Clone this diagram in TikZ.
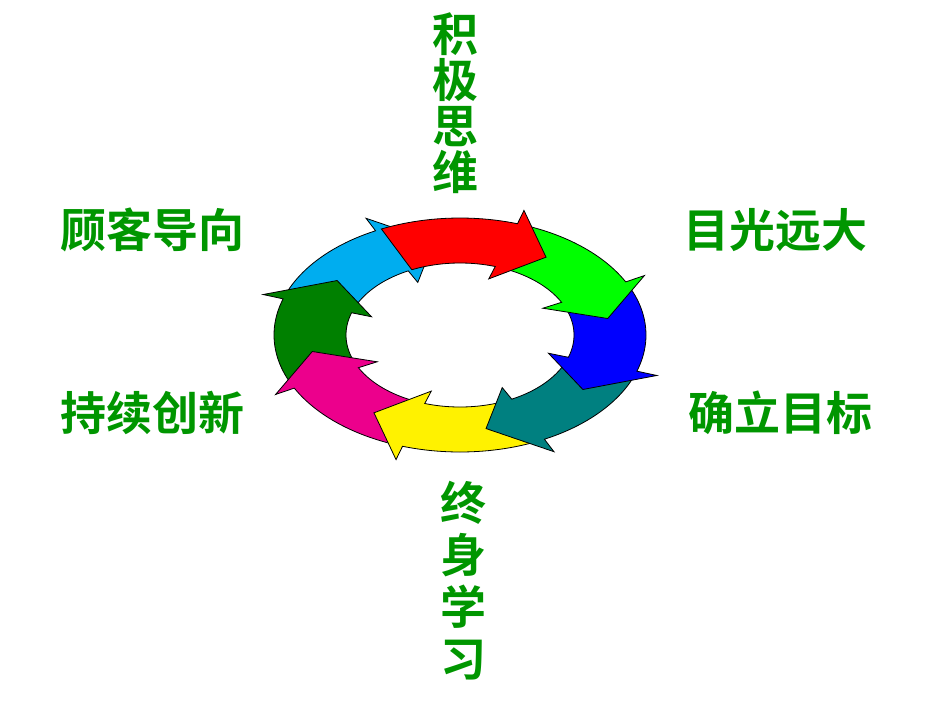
\documentclass[tikz,border=0pt]{standalone}
\usepackage{fontspec}
\newfontfamily\cjk{Noto Sans CJK SC Bold}
\definecolor{tg}{RGB}{0,150,0}
\begin{document}
\begin{tikzpicture}[x=1pt,y=-1pt,
  lab/.style={text=tg,font=\cjk\fontsize{46}{46}\selectfont,inner sep=0pt},
  vlab/.style={lab,align=center}]
\useasboundingbox (0,0) rectangle (950,713);
\foreach \tip/\col in {-260/cyan,-215/{rgb,255:red,0;green,128;blue,0},-170/magenta,-125/yellow,-80/{rgb,255:red,0;green,128;blue,128},-35/blue,10/{rgb,255:red,0;green,255;blue,0},55/red}{
  \pgfmathsetmacro\hb{\tip+17}
  \pgfmathsetmacro\ts{\tip+60}
  \draw[fill=\col,line width=0.8pt,line join=miter]
    plot[domain=\ts:\hb,samples=25] ({460+186*cos(\x)},{335-117*sin(\x)})
    -- ({460+207*cos(\hb)},{335-131*sin(\hb)})
    -- ({460+150*cos(\tip)},{335-95*sin(\tip)})
    -- ({460+93*cos(\hb)},{335-59*sin(\hb)})
    -- plot[domain=\hb:\ts,samples=25] ({460+114*cos(\x)},{335-72*sin(\x)})
    -- cycle;
}
\node[lab] (a) at (152,230) {顾客导向};
\node[lab] (b) at (775,230) {目光远大};
\node[lab] (c) at (152,413) {持续创新};
\node[lab] (d) at (780,413) {确立目标};
\node[vlab,font=\cjk\fontsize{46}{46}\selectfont] (e) at (455,103) {积\\极\\思\\维};
\node[vlab,font=\cjk\fontsize{46}{52}\selectfont] (f) at (463,581) {终\\身\\学\\习};
\end{tikzpicture}
\end{document}
